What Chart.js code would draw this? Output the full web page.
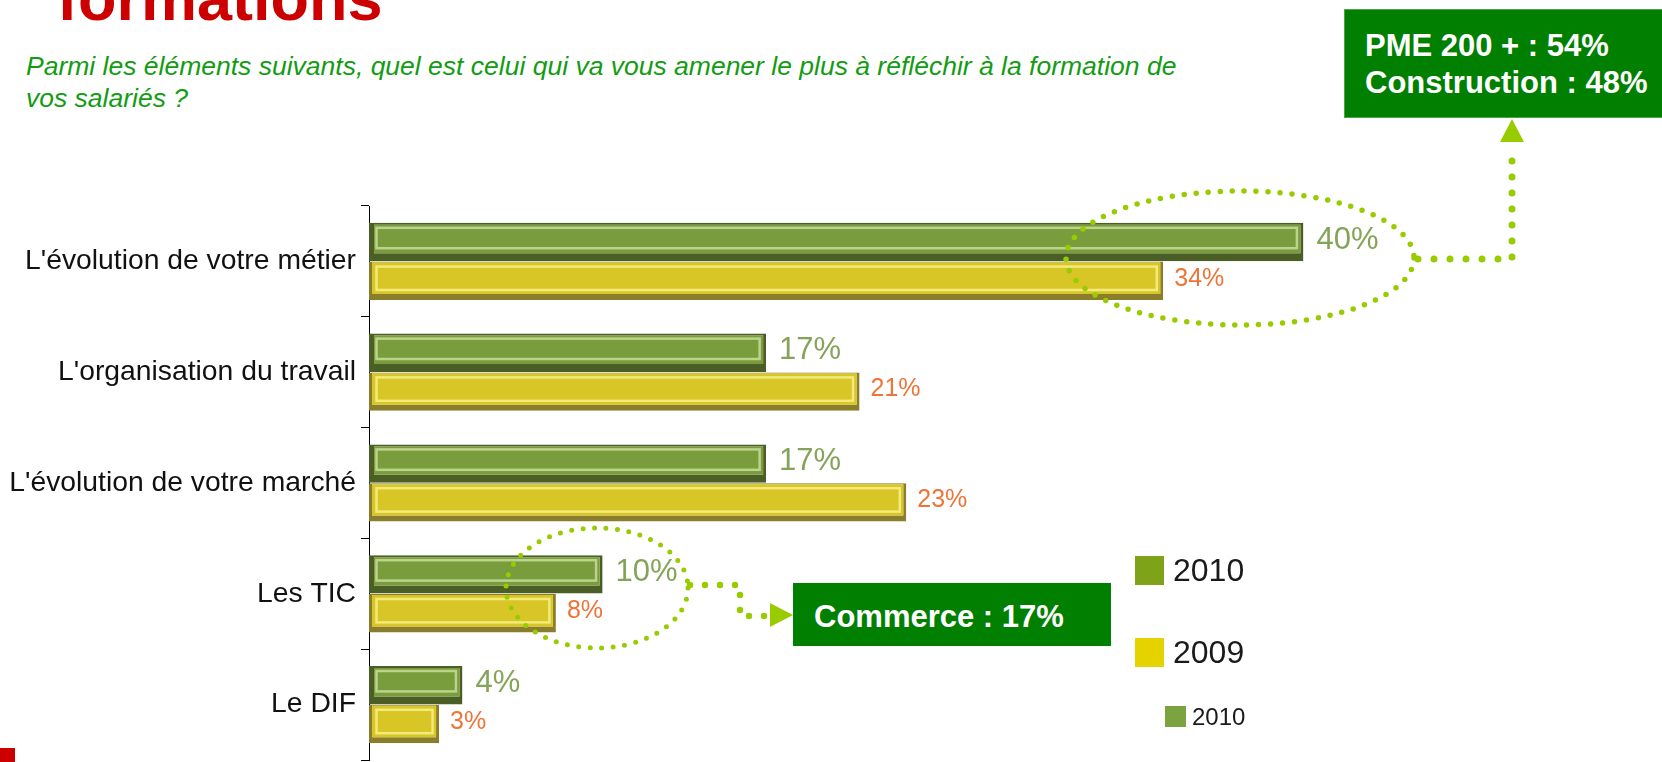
<!DOCTYPE html>
<html>
<head>
<meta charset="utf-8">
<script src="https://cdn.jsdelivr.net/npm/chart.js@4.4.0/dist/chart.umd.min.js"></script>
<style>
    html, body { margin: 0; padding: 0; background: #fff; overflow: hidden; width: 1662px; height: 762px; font-family: 'Liberation Sans', Arial, Helvetica, sans-serif; }
    .abs { position: absolute; white-space: nowrap; }
    #title { left: 57px; top: -33px; font-size: 63px; line-height: 63px; font-weight: bold; color: #cc0000; }
    #sub { left: 26px; top: 50px; font-size: 26.5px; line-height: 32px; font-style: italic; color: #129c12; }
    .box { position: absolute; background: #007f00; color: #fff; font-weight: bold; font-size: 31px; line-height: 37px; white-space: nowrap; box-sizing: border-box; }
    #box1 { left: 1344px; top: 9px; width: 340px; height: 109px; padding: 17px 0 0 20px; border: 1px solid #4fa244; }
    #box2 { left: 793px; top: 583px; width: 318px; height: 63px; padding: 15px 0 0 21px; }
    .leg { position: absolute; display: flex; align-items: center; color: #1a1a1a; }
    .leg span.sw { display: inline-block; }
    #red { position: absolute; left: 0; top: 748px; width: 15px; height: 14px; background: #cc0000; }
    #chart { position: absolute; left: 0; top: 0; }
</style>
</head>
<body>
<div id="title" class="abs">formations</div>
<div id="sub" class="abs">Parmi les éléments suivants, quel est celui qui va vous amener le plus à réfléchir à la formation de<br>vos salariés ?</div>
<canvas id="chart" width="1662" height="762"></canvas>
<div id="box1" class="box">PME 200 + : 54%<br>Construction : 48%</div>
<div id="box2" class="box">Commerce : 17%</div>
<div id="legend"></div>
<div id="red"></div>

<script>
// --- data ---
const categories = ["L'évolution de votre métier", "L'organisation du travail", "L'évolution de votre marché", "Les TIC", "Le DIF"];
const values2010 = [40, 17, 17, 10, 4];
const values2009 = [34, 21, 23, 8, 3];
const seriesNames = ['2010', '2009'];

const FONT = "'Liberation Sans', Arial, Helvetica, sans-serif";
const DOT = '#99cc00';

// legend (three entries as in the original slide)
const legendItems = [
    { label: seriesNames[0], color: '#7fa318', size: 29, font: 32, left: 1135, top: 556 },
    { label: seriesNames[1], color: '#e5d300', size: 29, font: 32, left: 1135, top: 638 },
    { label: seriesNames[0], color: '#7ba33f', size: 21, font: 24, left: 1165, top: 706 }
];
document.getElementById('legend').innerHTML = legendItems.map(it =>
    `<div class="leg" style="left:${it.left}px;top:${it.top}px;height:${it.size}px;font-size:${it.font}px;line-height:${it.size}px">` +
    `<span class="sw" style="width:${it.size}px;height:${it.size}px;background:${it.color};margin-right:${Math.round(it.size * 0.3)}px"></span>${it.label}</div>`
).join('');

// inner light outline to mimic the bevelled 3D bars
const bevel = {
    id: 'bevel',
    afterDatasetsDraw(chart) {
        const ctx = chart.ctx;
        chart.data.datasets.forEach((ds, i) => {
            chart.getDatasetMeta(i).data.forEach(bar => {
                const { x, y, base, height } = bar.getProps(['x', 'y', 'base', 'height'], true);
                const top = y - height / 2;
                ctx.save();
                ctx.strokeStyle = ds.highlight;
                ctx.lineWidth = 2.5;
                ctx.strokeRect(base + 7.5, top + 5, x - base - 14, height - ds.inset);
                ctx.restore();
            });
        });
    }
};

// value labels next to each bar
const valueLabels = {
    id: 'valueLabels',
    afterDatasetsDraw(chart) {
        const ctx = chart.ctx;
        chart.data.datasets.forEach((ds, i) => {
            chart.getDatasetMeta(i).data.forEach((bar, j) => {
                ctx.save();
                ctx.font = `${ds.labelSize}px ${FONT}`;
                ctx.fillStyle = ds.labelColor;
                ctx.textBaseline = 'middle';
                ctx.fillText(ds.data[j] + '%', bar.x + ds.labelGap, bar.y - 2);
                ctx.restore();
            });
        });
    }
};

// dotted ellipses, connectors and arrow heads
function dotted(ctx, width, gap, path) {
    ctx.save();
    ctx.strokeStyle = DOT;
    ctx.lineWidth = width;
    ctx.lineCap = 'round';
    ctx.setLineDash([0, gap]);
    ctx.beginPath();
    path();
    ctx.stroke();
    ctx.restore();
}
function tri(ctx, pts) {
    ctx.save();
    ctx.fillStyle = DOT;
    ctx.beginPath();
    ctx.moveTo(pts[0], pts[1]); ctx.lineTo(pts[2], pts[3]); ctx.lineTo(pts[4], pts[5]);
    ctx.closePath(); ctx.fill();
    ctx.restore();
}
const callouts = {
    id: 'callouts',
    afterDraw(chart) {
        const ctx = chart.ctx;
        // around 40% / 34%
        dotted(ctx, 5.5, 12, () => ctx.ellipse(1240, 258, 174, 67, 0, 0, Math.PI * 2));
        dotted(ctx, 7, 16, () => { ctx.moveTo(1418, 259); ctx.lineTo(1512, 259); ctx.lineTo(1512, 148); });
        tri(ctx, [1512, 119, 1500, 142, 1524, 142]);
        // around 10% / 8%
        dotted(ctx, 5, 11.5, () => ctx.ellipse(597, 588, 91, 60, 0, 0, Math.PI * 2));
        dotted(ctx, 6.5, 15, () => { ctx.moveTo(690, 585); ctx.lineTo(740, 585); ctx.lineTo(740, 616); ctx.lineTo(765, 616); });
        tri(ctx, [793, 615, 770, 603, 770, 627]);
    }
};

new Chart(document.getElementById('chart'), {
    type: 'bar',
    data: {
        labels: categories,
        datasets: [
            {
                label: seriesNames[0], data: values2010,
                backgroundColor: '#799c3d', borderColor: '#4a5e26', highlight: '#bcd38c', inset: 18,
                borderWidth: { top: 2, right: 3, bottom: 8, left: 5 }, borderSkipped: false,
                labelColor: '#86a35a', labelSize: 31, labelGap: 13
            },
            {
                label: seriesNames[1], data: values2009,
                backgroundColor: '#d8c626', borderColor: '#8a7d2c', highlight: '#f2ea7a', inset: 15,
                borderWidth: { top: 1, right: 3, bottom: 6, left: 3 }, borderSkipped: false,
                labelColor: '#ee7438', labelSize: 25, labelGap: 11
            }
        ]
    },
    options: {
        indexAxis: 'y',
        responsive: false,
        animation: false,
        categoryPercentage: 0.7,
        barPercentage: 0.99,
        layout: { padding: { left: 0, top: 206, right: 125, bottom: 2 } },
        scales: {
            x: { display: false, min: 0, max: 50 },
            y: {
                afterFit: s => { s.width = 369; s.paddingTop = 0; s.paddingBottom = 0; },
                grid: { display: true, drawOnChartArea: false, drawTicks: true, tickLength: 8, color: '#000', offset: true },
                border: { display: true, color: '#000', width: 1 },
                ticks: { color: '#111', padding: 5, font: { size: 28.3, family: FONT } }
            }
        },
        plugins: { legend: { display: false }, tooltip: { enabled: false } }
    },
    plugins: [bevel, valueLabels, callouts]
});
</script>
</body>
</html>
